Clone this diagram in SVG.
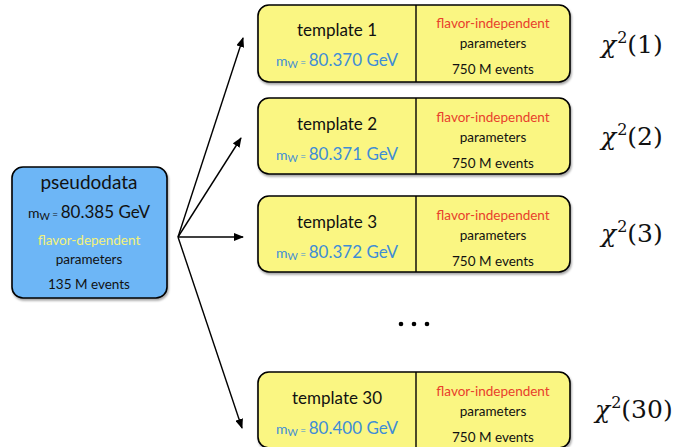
<svg xmlns="http://www.w3.org/2000/svg" width="674" height="447" viewBox="0 0 674 447">
<defs>
<marker id="ah" markerWidth="10" markerHeight="8" refX="9" refY="4" orient="auto" markerUnits="userSpaceOnUse">
<path d="M0,0 L10,4 L0,8 Z" fill="#000"/>
</marker>
<filter id="sh" x="-5%" y="-5%" width="110%" height="115%">
<feDropShadow dx="1" dy="2" stdDeviation="1.2" flood-color="#000" flood-opacity="0.35"/>
</filter>
</defs>
<style>
text{font-family:Lato,"Open Sans","Liberation Sans",sans-serif;text-anchor:middle;fill:#111}
.tb{fill:#FAF682;stroke:#000;stroke-width:1.6}
.pd{fill:#6DB6F6;stroke:#000;stroke-width:1.6}
.mid{font-size:17px}
.sm{font-size:13.5px}
.blue{fill:#3F8DD6}
.red{fill:#E8402C}
.yel{fill:#F4F27A}
.m{font-size:14px}
.w{font-size:10px}
.v{font-size:17px}
.chi{font-family:"DejaVu Serif","Liberation Serif",serif;font-size:25px;text-anchor:start;fill:#111;font-weight:300}
.conn line{stroke:#000;stroke-width:1.4;marker-end:url(#ah)}
</style>

<g id="pseudodata">
<rect class="pd" x="12" y="167" width="155" height="131" rx="11" filter="url(#sh)"/>
<text x="89" y="189" style="font-size:19px">pseudodata</text>
<text x="89" y="218"><tspan class="m">m</tspan><tspan class="w" dy="2">W</tspan><tspan class="w" dy="-2"> = </tspan><tspan class="v">80.385 GeV</tspan></text>
<text class="sm yel" x="89" y="245">flavor-dependent</text>
<text class="sm" x="89" y="264">parameters</text>
<text class="sm" x="89" y="289">135 M events</text>
</g>

<g id="template1">
<rect class="tb" x="258" y="5" width="312" height="77" rx="11" filter="url(#sh)"/>
<line x1="416" y1="5" x2="416" y2="82" stroke="#000" stroke-width="1.4"/>
<text class="mid" x="337" y="36">template 1</text>
<text class="blue" x="337" y="66"><tspan class="m">m</tspan><tspan class="w" dy="2">W</tspan><tspan class="w" dy="-2"> = </tspan><tspan class="v">80.370 GeV</tspan></text>
<text class="sm red" x="493" y="28">flavor-independent</text>
<text class="sm" x="493" y="48">parameters</text>
<text class="sm" x="493" y="74">750 M events</text>
</g>

<g id="template2">
<rect class="tb" x="258" y="98" width="312" height="76" rx="11" filter="url(#sh)"/>
<line x1="416" y1="98" x2="416" y2="174" stroke="#000" stroke-width="1.4"/>
<text class="mid" x="337" y="130">template 2</text>
<text class="blue" x="337" y="160"><tspan class="m">m</tspan><tspan class="w" dy="2">W</tspan><tspan class="w" dy="-2"> = </tspan><tspan class="v">80.371 GeV</tspan></text>
<text class="sm red" x="493" y="122">flavor-independent</text>
<text class="sm" x="493" y="142">parameters</text>
<text class="sm" x="493" y="168">750 M events</text>
</g>

<g id="template3">
<rect class="tb" x="258" y="196" width="312" height="76" rx="11" filter="url(#sh)"/>
<line x1="416" y1="196" x2="416" y2="272" stroke="#000" stroke-width="1.4"/>
<text class="mid" x="337" y="228">template 3</text>
<text class="blue" x="337" y="258"><tspan class="m">m</tspan><tspan class="w" dy="2">W</tspan><tspan class="w" dy="-2"> = </tspan><tspan class="v">80.372 GeV</tspan></text>
<text class="sm red" x="493" y="220">flavor-independent</text>
<text class="sm" x="493" y="240">parameters</text>
<text class="sm" x="493" y="266">750 M events</text>
</g>

<g id="template30">
<rect class="tb" x="258" y="372" width="312" height="76" rx="11" filter="url(#sh)"/>
<line x1="416" y1="372" x2="416" y2="448" stroke="#000" stroke-width="1.4"/>
<text class="mid" x="337" y="404">template 30</text>
<text class="blue" x="337" y="434"><tspan class="m">m</tspan><tspan class="w" dy="2">W</tspan><tspan class="w" dy="-2"> = </tspan><tspan class="v">80.400 GeV</tspan></text>
<text class="sm red" x="493" y="396">flavor-independent</text>
<text class="sm" x="493" y="416">parameters</text>
<text class="sm" x="493" y="442">750 M events</text>
</g>

<g id="ellipsis">
<circle cx="401" cy="324" r="2.3" fill="#000"/>
<circle cx="414" cy="324" r="2.3" fill="#000"/>
<circle cx="427" cy="324" r="2.3" fill="#000"/>
</g>

<g id="chi-labels">
<text class="chi" x="601" y="53"><tspan font-style="italic">χ</tspan><tspan style="font-size:16px" dx="1" dy="-10">2</tspan><tspan dy="10">(1)</tspan></text>
<text class="chi" x="601" y="145"><tspan font-style="italic">χ</tspan><tspan style="font-size:16px" dx="1" dy="-10">2</tspan><tspan dy="10">(2)</tspan></text>
<text class="chi" x="601" y="242"><tspan font-style="italic">χ</tspan><tspan style="font-size:16px" dx="1" dy="-10">2</tspan><tspan dy="10">(3)</tspan></text>
<text class="chi" x="595" y="418"><tspan font-style="italic">χ</tspan><tspan style="font-size:16px" dx="1" dy="-10">2</tspan><tspan dy="10">(30)</tspan></text>
</g>

<g id="connectors" class="conn">
<line x1="178" y1="237" x2="243" y2="38"/>
<line x1="178" y1="237" x2="241" y2="138"/>
<line x1="178" y1="237" x2="243" y2="237"/>
<line x1="178" y1="237" x2="242" y2="428"/>
</g>
</svg>
